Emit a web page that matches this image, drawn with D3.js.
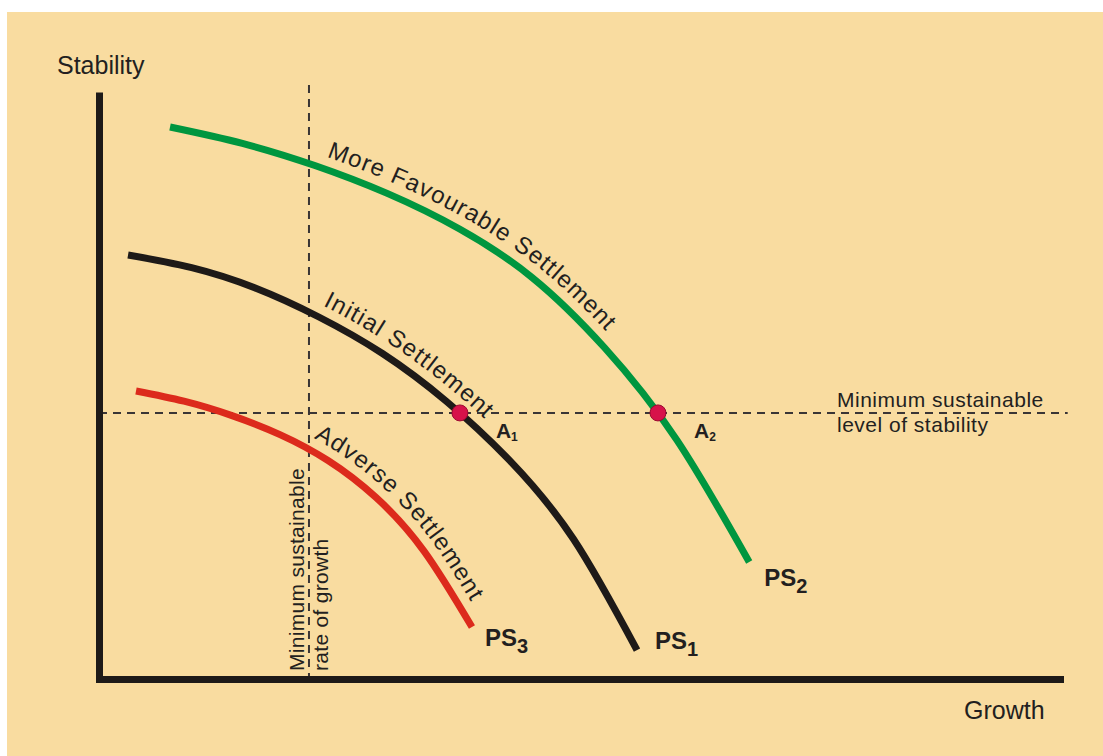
<!doctype html>
<html>
<meta charset="utf-8">
<style>
body { margin: 0; padding: 0; background: #fff; }
svg { display: block; font-family: 'Liberation Sans', Arial, sans-serif; }
</style>
<body>
<svg width="1103" height="756"></svg>
<script src="https://d3js.org/d3.v7.min.js"></script>
<script>

// growth (x) and stability (y), both on a 0..100 scale
var ps2 = [[7.39, 94.60], [14.92, 91.79], [22.46, 88.00], [29.99, 83.22], [37.52, 77.12],
           [45.06, 68.82], [52.59, 56.81], [60.12, 40.99], [67.66, 20.05]];
var ps1 = [[3.02, 72.66], [9.64, 70.49], [16.26, 67.01], [22.88, 62.04], [29.50, 55.78],
           [36.12, 47.63], [42.75, 37.43], [49.37, 23.99], [55.98, 4.96]];
var ps3 = [[3.85, 49.36], [8.84, 47.61], [13.84, 45.14], [18.83, 41.89], [23.83, 37.45],
           [28.82, 31.12], [33.82, 21.92], [38.81, 8.91]];

var curveNames  = ["More Favourable Settlement", "Initial Settlement", "Adverse Settlement"];
var curveTags   = ["2", "1", "3"];          // PS subscripts
var labelStart  = [23.7, 23.3, 22.5];       // growth value where each curve label begins

var minGrowth = 21.85;
var minStability = 45.6;

// points A1, A2: where PS1 and PS2 meet the minimum stability line
var pointCurve = [1, 0];
var pointTags  = ["1", "2"];

var svg = d3.select("svg");

svg.append("rect")
    .attr("x", 7).attr("y", 12)
    .attr("width", 1096).attr("height", 744)
    .attr("fill", "#f9dca0");

var x = d3.scaleLinear().domain([0, 100]).range([99, 1060]);
var y = d3.scaleLinear().domain([0, 100]).range([679, 95.5]);

var ink = "#231f20";

// dashed guide lines
svg.append("line")
    .attr("x1", x(minGrowth)).attr("x2", x(minGrowth))
    .attr("y1", y(101.8)).attr("y2", y(0))
    .attr("stroke", "#3a3535").attr("stroke-width", 2)
    .attr("stroke-dasharray", "8,6");

svg.append("line")
    .attr("x1", x(0)).attr("x2", x(100.8))
    .attr("y1", y(minStability)).attr("y2", y(minStability))
    .attr("stroke", "#3a3535").attr("stroke-width", 2)
    .attr("stroke-dasharray", "8,6");

// axes without ticks
var xAxis = svg.append("g").attr("transform", "translate(0," + y(0) + ")")
    .call(d3.axisBottom(x).ticks(0).tickSizeOuter(0));
var yAxis = svg.append("g").attr("transform", "translate(" + x(0) + ",0)")
    .call(d3.axisLeft(y).ticks(0).tickSizeOuter(0));
[xAxis, yAxis].forEach(function(a) {
  a.select(".domain")
    .attr("stroke", "#1e1a18")
    .attr("stroke-width", 7)
    .attr("stroke-linecap", "square");
});

svg.append("text").attr("x", 57).attr("y", 74)
    .attr("font-size", 25).attr("fill", ink).text("Stability");
svg.append("text").attr("x", 964).attr("y", 719)
    .attr("font-size", 25).attr("fill", ink).text("Growth");

// the three settlement curves
var line = d3.line()
    .x(function(d) { return x(d[0]); })
    .y(function(d) { return y(d[1]); })
    .curve(d3.curveNatural);

var curves = [ps2, ps1, ps3];
var colors = ["#00963f", "#1e1a18", "#dc2a1c"];
var tagOffset = [[15, 24], [18, -1], [13, 19]];
var nodes = [];

curves.forEach(function(data, i) {
  var path = svg.append("path")
      .attr("d", line(data))
      .attr("fill", "none")
      .attr("stroke", colors[i])
      .attr("stroke-width", 7);

  // build a path running parallel to the curve, on its outer side, for the label
  var node = path.node(), L = node.getTotalLength(), pts = [];
  nodes.push(node);
  for (var s = 0; s <= L; s += 2) {
    var p = node.getPointAtLength(s),
        a = node.getPointAtLength(Math.max(0, s - 1)),
        b = node.getPointAtLength(Math.min(L, s + 1));
    var tx = b.x - a.x, ty = b.y - a.y, n = Math.hypot(tx, ty);
    pts.push([p.x + ty / n * 12, p.y - tx / n * 12]);
  }
  var startX = x(labelStart[i]), len = 0;
  for (var k = 1; k < pts.length && pts[k][0] < startX; k++) {
    len += Math.hypot(pts[k][0] - pts[k - 1][0], pts[k][1] - pts[k - 1][1]);
  }
  svg.append("path").attr("id", "lab" + i)
      .attr("d", d3.line()(pts)).attr("fill", "none");
  svg.append("text")
      .attr("font-size", 24).attr("fill", ink).attr("letter-spacing", 1.2)
    .append("textPath")
      .attr("href", "#lab" + i)
      .attr("startOffset", len)
      .text(curveNames[i]);

  // PS tag at the lower end
  var end = data[data.length - 1];
  var t = svg.append("text")
      .attr("x", x(end[0]) + tagOffset[i][0])
      .attr("y", y(end[1]) + tagOffset[i][1])
      .attr("font-size", 24).attr("font-weight", "bold").attr("fill", ink)
      .text("PS");
  t.append("tspan").attr("font-size", 20).attr("dy", 7).text(curveTags[i]);
});

// intersection points, found on the drawn curve
var yMin = y(minStability);
pointCurve.forEach(function(ci, i) {
  var node = nodes[ci], L = node.getTotalLength(), prev = node.getPointAtLength(0), hit = prev;
  for (var s = 0.5; s <= L; s += 0.5) {
    var p = node.getPointAtLength(s);
    if (prev.y < yMin && p.y >= yMin) {
      var f = (yMin - prev.y) / (p.y - prev.y);
      hit = { x: prev.x + f * (p.x - prev.x), y: yMin };
      break;
    }
    prev = p;
  }
  svg.append("circle")
      .attr("cx", hit.x).attr("cy", hit.y).attr("r", 8)
      .attr("fill", "#d7124a").attr("stroke", "#9a0a30").attr("stroke-width", 1);
  var t = svg.append("text")
      .attr("x", hit.x + 36).attr("y", hit.y + 25)
      .attr("font-size", 21).attr("font-weight", "bold").attr("fill", ink)
      .text("A");
  t.append("tspan").attr("font-size", 12).attr("dy", 3).text(pointTags[i]);
});

// guide line captions
var cap = svg.append("text").attr("font-size", 21).attr("fill", ink)
    .attr("letter-spacing", 0.5);
cap.append("tspan").attr("x", 837).attr("y", 407).text("Minimum sustainable");
cap.append("tspan").attr("x", 837).attr("y", 432).text("level of stability");

var vcap = svg.append("text").attr("font-size", 21).attr("fill", ink)
    .attr("letter-spacing", 0.3)
    .attr("transform", "translate(304,671) rotate(-90)");
vcap.append("tspan").attr("x", 0).attr("y", 0).text("Minimum sustainable");
vcap.append("tspan").attr("x", 0).attr("y", 24).text("rate of growth");

</script>
</body>
</html>
